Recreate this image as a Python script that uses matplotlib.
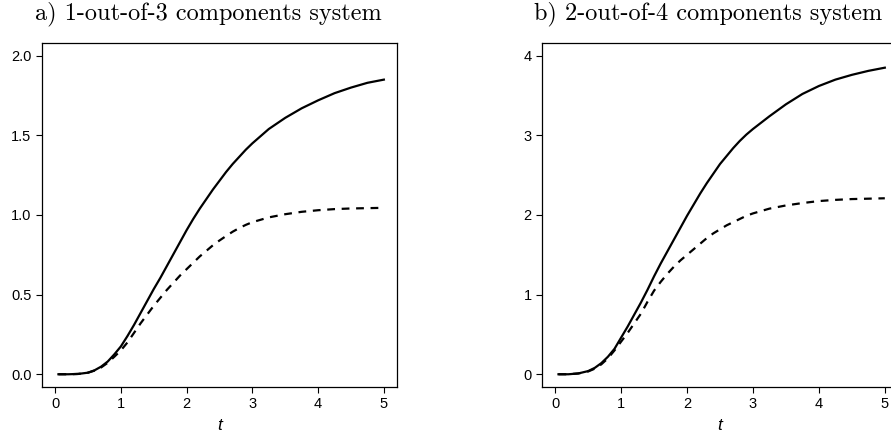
import matplotlib
matplotlib.use('Agg')
import matplotlib.pyplot as plt
import numpy as np

# time grid
t = [0.05, 0.2, 0.35, 0.5, 0.6, 0.7, 0.8, 0.9, 1.0, 1.1, 1.2, 1.3, 1.4, 1.5,
     1.6, 1.7, 1.8, 1.9, 2.0, 2.1, 2.2, 2.3, 2.4, 2.5, 2.6, 2.7, 2.8, 2.9, 3.0,
     3.25, 3.5, 3.75, 4.0, 4.25, 4.5, 4.75, 5.0]

# a) 1-out-of-3
a_solid = [0.0, 0.0, 0.002, 0.01, 0.025, 0.048, 0.08, 0.125, 0.175, 0.24, 0.31,
           0.385, 0.46, 0.535, 0.605, 0.68, 0.755, 0.83, 0.905, 0.975, 1.04,
           1.1, 1.16, 1.215, 1.27, 1.32, 1.365, 1.41, 1.45,
           1.54, 1.61, 1.67, 1.72, 1.765, 1.8, 1.83, 1.85]
a_dash = [0.0, 0.0, 0.002, 0.01, 0.023, 0.043, 0.072, 0.11, 0.15, 0.2, 0.26,
          0.32, 0.375, 0.43, 0.48, 0.53, 0.575, 0.62, 0.66, 0.7, 0.74,
          0.775, 0.81, 0.84, 0.868, 0.895, 0.918, 0.938, 0.955,
          0.985, 1.005, 1.02, 1.03, 1.037, 1.041, 1.043, 1.045]

# b) 2-out-of-4
b_solid = [0.0, 0.0, 0.01, 0.04, 0.08, 0.14, 0.22, 0.32, 0.46, 0.6, 0.75,
           0.9, 1.06, 1.23, 1.39, 1.54, 1.69, 1.84, 1.99, 2.13, 2.27,
           2.4, 2.52, 2.64, 2.74, 2.84, 2.93, 3.01, 3.08,
           3.24, 3.39, 3.52, 3.62, 3.7, 3.76, 3.81, 3.85]
b_dash = [0.0, 0.0, 0.01, 0.035, 0.07, 0.125, 0.2, 0.3, 0.41, 0.52, 0.64,
          0.76, 0.91, 1.05, 1.16, 1.26, 1.35, 1.43, 1.50, 1.57, 1.64,
          1.71, 1.77, 1.82, 1.87, 1.91, 1.95, 1.99, 2.02,
          2.08, 2.12, 2.15, 2.175, 2.19, 2.2, 2.205, 2.21]

xticks = [0, 1, 2, 3, 4, 5]
a_yticks = [0.0, 0.5, 1.0, 1.5, 2.0]
a_ylabels = ['0.0', '0.5', '1.0', '1.5', '2.0']
b_yticks = [0, 1, 2, 3, 4]

fig = plt.figure(figsize=(8.91, 4.36), dpi=100)
W, H = 891, 436

def make_ax(left, right, top, bottom):
    return fig.add_axes([left / W, 1 - bottom / H, (right - left) / W, (bottom - top) / H])

panels = [
    (make_ax(42, 397, 43, 387), a_solid, a_dash, (0, 2), a_yticks, a_ylabels,
     'a) 1-out-of-3 components system', 208),
    (make_ax(542, 898, 43, 387), b_solid, b_dash, (0, 4), b_yticks,
     [str(v) for v in b_yticks], 'b) 2-out-of-4 components system', 708),
]

for ax, ys, yd, ylim, yt, ytl, title, tx in panels:
    ax.plot(t, ys, color='black', lw=1.6, solid_joinstyle='round')
    ax.plot(t, yd, color='black', lw=1.6, dashes=(3.5, 3))
    ax.set_xlim(-0.2, 5.2)
    r = ylim[1] - ylim[0]
    ax.set_ylim(ylim[0] - 0.04 * r, ylim[1] + 0.04 * r)
    ax.set_xticks(xticks)
    ax.set_xticklabels([str(v) for v in xticks])
    ax.set_yticks(yt)
    ax.set_yticklabels(ytl)
    ax.tick_params(direction='out', length=4.5, width=0.8, pad=3,
                   labelsize=10.5, colors='black')
    for lab in ax.get_xticklabels() + ax.get_yticklabels():
        lab.set_fontfamily('Liberation Sans')
    for sp in ax.spines.values():
        sp.set_linewidth(0.9)
    ax.set_xlabel('t', fontfamily='Liberation Sans', style='italic',
                  fontsize=12.5, labelpad=5)
    fig.text(tx / W, 1 - 14 / H, title, fontfamily='cmr10', fontsize=17.5,
             ha='center', va='center')

fig.savefig('out.png', dpi=100)
